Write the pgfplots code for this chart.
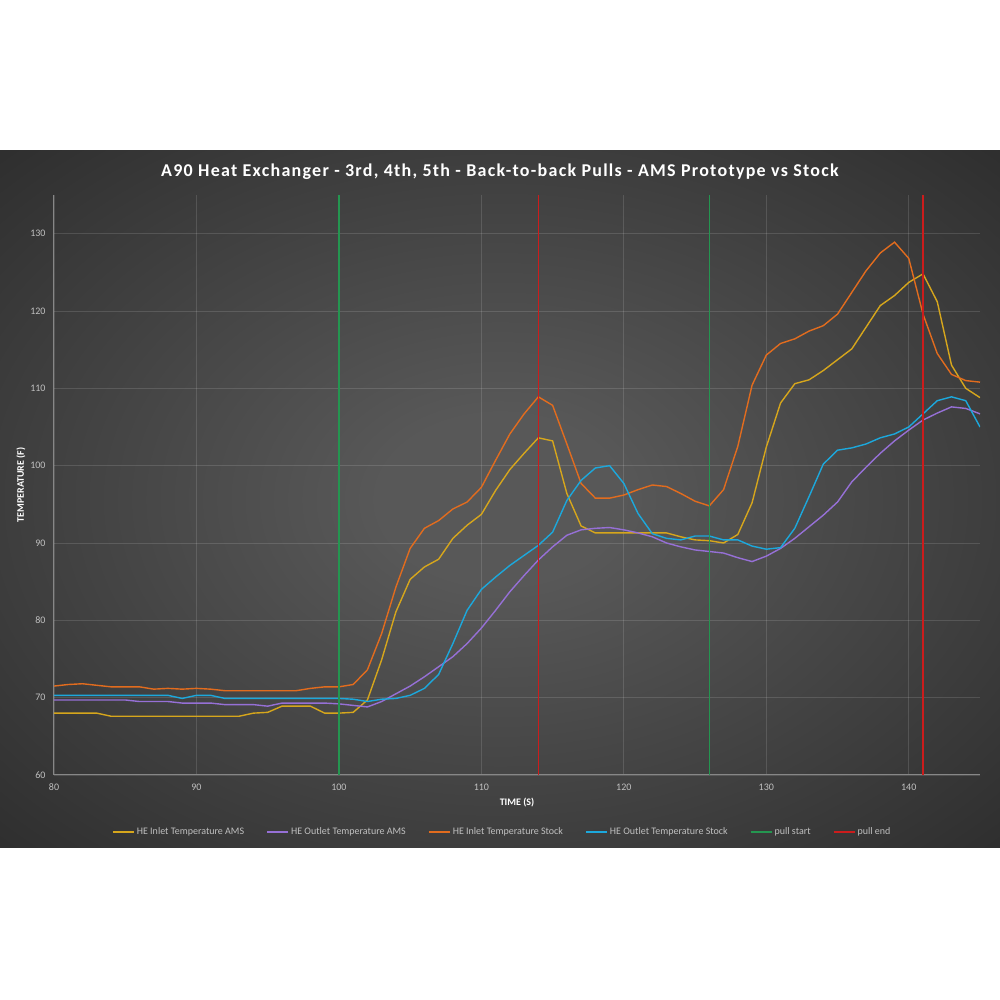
\documentclass[border=0pt]{standalone}
\usepackage{pgfplots}
\usepackage{pgfplotstable}
\pgfplotsset{compat=1.18}
\usepackage{fontspec}
\setmainfont{Carlito}
\newfontfamily\titlefont[LetterSpace=7]{Carlito}

\definecolor{amsin}{RGB}{214,166,28}
\definecolor{amsout}{RGB}{150,112,214}
\definecolor{stkin}{RGB}{226,108,30}
\definecolor{stkout}{RGB}{28,168,220}
\definecolor{pstart}{RGB}{36,150,80}
\definecolor{pend}{RGB}{204,28,28}
\definecolor{bgin}{RGB}{88,88,88}
\definecolor{bgout}{RGB}{33,33,33}
\definecolor{ticktext}{RGB}{192,192,192}
\definecolor{axisline}{RGB}{135,135,135}

\pgfdeclareradialshading{panel}{\pgfpoint{0bp}{0bp}}{color(0bp)=(bgin); color(6bp)=(bgin); color(45bp)=(bgout); color(71bp)=(bgout)}

% time (s), HE inlet AMS, HE outlet AMS, HE inlet stock, HE outlet stock
\pgfplotstableread{
t amsin amsout stkin stkout
80 68.0 69.7 71.5 70.3
81 68.0 69.7 71.7 70.3
82 68.0 69.7 71.8 70.3
83 68.0 69.7 71.6 70.3
84 67.6 69.7 71.4 70.3
85 67.6 69.7 71.4 70.3
86 67.6 69.5 71.4 70.3
87 67.6 69.5 71.1 70.3
88 67.6 69.5 71.2 70.3
89 67.6 69.3 71.1 69.9
90 67.6 69.3 71.2 70.3
91 67.6 69.3 71.1 70.3
92 67.6 69.1 70.9 69.9
93 67.6 69.1 70.9 69.9
94 68.0 69.1 70.9 69.9
95 68.1 68.9 70.9 69.9
96 68.9 69.3 70.9 69.9
97 68.9 69.3 70.9 69.9
98 68.9 69.3 71.2 69.9
99 68.0 69.3 71.4 69.9
100 68.0 69.2 71.4 69.9
101 68.1 69.0 71.7 69.8
102 69.7 68.8 73.6 69.5
103 74.9 69.5 78.3 69.8
104 81.1 70.5 84.3 69.9
105 85.3 71.5 89.3 70.3
106 86.9 72.7 91.9 71.2
107 87.9 74.0 92.9 73.0
108 90.6 75.3 94.4 77.0
109 92.3 77.0 95.3 81.3
110 93.7 79.0 97.2 84.0
111 96.8 81.3 100.7 85.6
112 99.5 83.7 104.1 87.1
113 101.6 85.8 106.7 88.4
114 103.6 87.8 108.9 89.7
115 103.2 89.5 107.8 91.4
116 96.4 91.0 102.8 95.5
117 92.2 91.7 97.7 98.1
118 91.3 91.9 95.8 99.7
119 91.3 92.0 95.8 100.0
120 91.3 91.7 96.2 97.7
121 91.3 91.3 96.9 93.8
122 91.3 90.8 97.5 91.2
123 91.3 90.0 97.3 90.6
124 90.8 89.5 96.4 90.4
125 90.4 89.1 95.4 90.9
126 90.3 88.9 94.8 90.9
127 90.0 88.7 96.9 90.4
128 91.1 88.1 102.5 90.4
129 95.2 87.6 110.4 89.6
130 102.4 88.3 114.3 89.2
131 108.1 89.3 115.8 89.4
132 110.6 90.6 116.4 91.9
133 111.1 92.1 117.4 96.0
134 112.3 93.6 118.1 100.2
135 113.7 95.3 119.6 102.0
136 115.1 97.9 122.4 102.3
137 117.9 99.8 125.2 102.8
138 120.7 101.6 127.5 103.6
139 122.0 103.2 128.9 104.1
140 123.7 104.6 126.8 105.0
141 124.8 105.9 119.6 106.7
142 121.2 106.8 114.5 108.4
143 113.0 107.6 111.8 108.9
144 110.0 107.4 111.0 108.4
145 108.8 106.7 110.8 105.0
}\temps

\begin{document}
\begin{tikzpicture}
  \fill[white] (0bp,0bp) rectangle (1000bp,1000bp);
  \shade[shading=panel] (0bp,152bp) rectangle (1000bp,849bp);

  \begin{axis}[
    at={(54bp,225bp)}, anchor=south west,
    scale only axis,
    width=926bp, height=580bp,
    xmin=80, xmax=145,
    ymin=60, ymax=135,
    xtick={80,90,...,140},
    ytick={60,70,...,130},
    axis x line*=bottom, axis y line*=left,
    axis line style={axisline, line width=1bp, -},
    major tick length=0pt,
    grid=major,
    grid style={white, opacity=0.13, line width=0.8bp},
    /pgf/number format/assume math mode=true,
    tick label style={font=\fontsize{10bp}{12bp}\selectfont, text=ticktext},
    yticklabel style={xshift=-5bp},
    xticklabel style={yshift=-5bp},
    title={A90 Heat Exchanger - 3rd, 4th, 5th - Back-to-back Pulls - AMS Prototype vs Stock},
    title style={at={(axis description cs:0.4816,1.029)}, anchor=center,
      font=\titlefont\bfseries\fontsize{18bp}{21bp}\selectfont, text=white},
    xlabel={TIME (S)},
    ylabel={TEMPERATURE (F)},
    every axis x label/.style={at={(axis description cs:0.5,-0.0483)}, anchor=center,
      font=\bfseries\fontsize{10bp}{12bp}\selectfont, text=white},
    every axis y label/.style={at={(axis description cs:-0.0356,0.5)}, anchor=center, rotate=90,
      font=\bfseries\fontsize{10bp}{12bp}\selectfont, text=white},
    legend columns=6,
    legend style={at={(axis description cs:0.484,-0.0983)}, anchor=center,
      draw=none, fill=none, text=ticktext,
      font=\fontsize{10bp}{12bp}\selectfont,
      /tikz/every even column/.append style={column sep=20bp}},
    legend image code/.code={\draw[#1, line width=2bp] (0bp,0bp) -- (21bp,0bp);},
    every axis plot/.append style={line width=1.4bp},
  ]
    \addplot[amsin] table[x=t, y=amsin] {\temps};
    \addlegendentry{HE Inlet Temperature AMS}
    \addplot[amsout] table[x=t, y=amsout] {\temps};
    \addlegendentry{HE Outlet Temperature AMS}
    \addplot[stkin] table[x=t, y=stkin] {\temps};
    \addlegendentry{HE Inlet Temperature Stock}
    \addplot[stkout] table[x=t, y=stkout] {\temps};
    \addlegendentry{HE Outlet Temperature Stock}

    % pull markers
    \addplot[pstart, line width=1.6bp] coordinates {(100,60) (100,135)};
    \addlegendentry{pull start}
    \addplot[pend, line width=1.6bp] coordinates {(114,60) (114,135)};
    \addlegendentry{pull end}
    \addplot[pstart, line width=1.6bp, forget plot] coordinates {(126,60) (126,135)};
    \addplot[pend, line width=1.6bp, forget plot] coordinates {(141,60) (141,135)};
  \end{axis}

  \pgfresetboundingbox
  \path (0bp,0bp) rectangle (1000bp,1000bp);
\end{tikzpicture}
\end{document}
